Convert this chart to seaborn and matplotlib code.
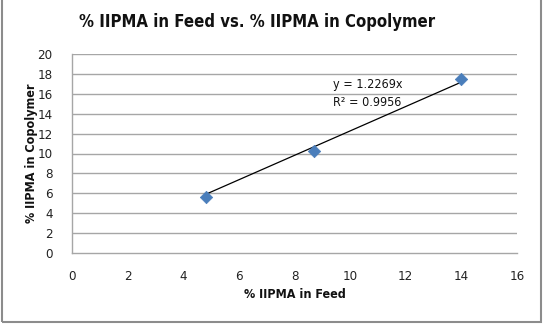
import matplotlib
matplotlib.use("Agg")
import matplotlib.pyplot as plt
import seaborn as sns
import numpy as np
import pandas as pd
from matplotlib.patches import Rectangle

feed = [4.8, 8.7, 14.0]
copolymer = [5.6, 10.3, 17.5]
slope = 1.2269
r2 = 0.9956
x_ticks = [0, 2, 4, 6, 8, 10, 12, 14, 16]
y_ticks = [0, 2, 4, 6, 8, 10, 12, 14, 16, 18, 20]

df = pd.DataFrame({"feed": feed, "copolymer": copolymer})

sns.set_theme(style="white")
plt.rcParams['font.family'] = ['DejaVu Sans']

fig = plt.figure(figsize=(5.51, 3.26), dpi=100)
ax = fig.add_axes([72/551, 1-253/326, (517-72)/551, (253-54)/326])

for y in y_ticks[1:]:
    ax.axhline(y, color="#a6a6a6", lw=1.0, zorder=0)

fx = np.array([min(feed), max(feed)])
ax.plot(fx, slope*fx, color="black", lw=0.9, zorder=2)
sns.scatterplot(data=df, x="feed", y="copolymer", marker="D", s=40,
                color="#4a7ebb", edgecolor="#4a7ebb", ax=ax, zorder=3)

ax.text(9.4, 17.55, "y = %.4fx\nR² = %.4f" % (slope, r2), fontsize=9,
        va="top", ha="left", color="#111111", fontstretch="condensed",
        linespacing=1.45)

ax.set_xlim(0, 16)
ax.set_ylim(0, 20)
ax.set_xticks(x_ticks)
ax.set_yticks(y_ticks)
ax.tick_params(axis="x", labelsize=9.5, length=0, pad=12, colors="#222222")
ax.tick_params(axis="y", labelsize=9.5, length=0, pad=14, colors="#222222")
for lbl in ax.get_xticklabels() + ax.get_yticklabels():
    lbl.set_fontstretch("condensed")
for s in ["top", "right"]:
    ax.spines[s].set_visible(False)
for s in ["left", "bottom"]:
    ax.spines[s].set_color("#a6a6a6")
    ax.spines[s].set_linewidth(1.0)

ax.set_xlabel("% IIPMA in Feed", fontsize=9, fontweight="bold",
              fontstretch="condensed", labelpad=4, color="#111111")
ax.set_ylabel("% IIPMA in Copolymer", fontsize=9, fontweight="bold",
              fontstretch="condensed", labelpad=-0.5, color="#111111")

fig.text(257/551, 1-22/326, "% IIPMA in Feed vs. % IIPMA in Copolymer",
         ha="center", va="center", fontsize=12, fontweight="bold",
         fontstretch="condensed", color="#111111")

fig.patches.append(Rectangle((1.5/551, 4/326), (541-1.5)/551, 1.0,
                             transform=fig.transFigure, fill=False,
                             edgecolor="#8c8c8c", lw=1.5))

fig.savefig("out.png", dpi=100)
